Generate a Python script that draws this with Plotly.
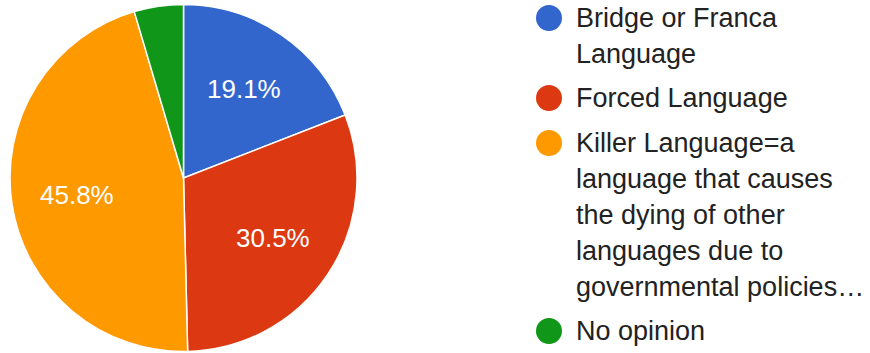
import math
import plotly.graph_objects as go

labels = ["Bridge or Franca Language", "Forced Language",
          "Killer Language=a language that causes the dying of other languages due to governmental policies…",
          "No opinion"]
values = [25, 40, 60, 6]
colors = ["#3366cc", "#dc3912", "#ff9900", "#109618"]
legend_lines = [
    ["Bridge or Franca", "Language"],
    ["Forced Language"],
    ["Killer Language=a", "language that causes", "the dying of other", "languages due to", "governmental policies…"],
    ["No opinion"],
]

W, H = 870, 353
total = sum(values)

# pie geometry (pixels)
px0, px1 = 10, 357
py_top, py_bot = 4.5, 351.5
cx, cy = (px0 + px1) / 2, (py_top + py_bot) / 2
R = (px1 - px0) / 2

fig = go.Figure(go.Pie(
    labels=labels, values=values, textinfo="none",
    sort=False, direction="clockwise", rotation=0,
    marker=dict(colors=colors, line=dict(color="white", width=1.5)),
    domain=dict(x=[px0 / W, px1 / W], y=[1 - py_bot / H, 1 - py_top / H]),
    showlegend=False, hoverinfo="label+percent",
))

annotations, shapes = [], []

# slice percentage labels, placed along each slice's mid angle
cum = 0
for v in values:
    frac = v / total
    mid = (cum + frac / 2) * 2 * math.pi
    cum += frac
    if frac < 0.05:
        continue
    r = 0.62 * R
    x = cx + r * math.sin(mid)
    y = cy - r * math.cos(mid)
    annotations.append(dict(text=f"{frac * 100:.1f}%", xref="paper", yref="paper",
                            x=x / W, y=1 - y / H, xanchor="center", yanchor="middle",
                            showarrow=False,
                            font=dict(family="Liberation Sans, Arial", size=26, color="white")))

# custom legend
font = dict(family="Liberation Sans, Arial", size=27, color="#222222")
line_gap, entry_gap = 36, 44
y = 18
for i, lines in enumerate(legend_lines):
    shapes.append(dict(type="circle", xref="paper", yref="paper",
                       xsizemode="pixel", ysizemode="pixel",
                       xanchor=549 / W, yanchor=1 - y / H,
                       x0=-13, x1=13, y0=-13, y1=13,
                       fillcolor=colors[i], line=dict(width=0)))
    for j, ln in enumerate(lines):
        annotations.append(dict(text=ln, xref="paper", yref="paper",
                                x=574 / W, y=1 - y / H, xanchor="left", yanchor="middle",
                                showarrow=False, font=font))
        if j < len(lines) - 1:
            y += line_gap
    y += entry_gap + (1 if i == 1 else 0)

fig.update_layout(width=W, height=H, margin=dict(l=0, r=0, t=0, b=0),
                  paper_bgcolor="white", plot_bgcolor="white",
                  annotations=annotations, shapes=shapes)
fig.write_html("out.html", config={"displayModeBar": False},
               post_script="document.body.style.margin='0';")
